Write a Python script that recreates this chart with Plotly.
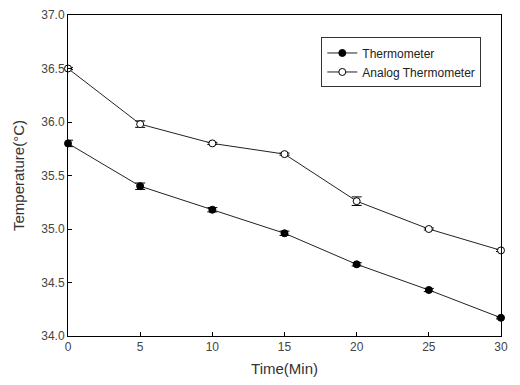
import plotly.graph_objects as go

time_min = [0, 5, 10, 15, 20, 25, 30]
thermometer = [35.80, 35.40, 35.18, 34.96, 34.67, 34.43, 34.17]
thermometer_err = [0.03, 0.03, 0.02, 0.02, 0.015, 0.015, 0.01]
analog = [36.50, 35.98, 35.80, 35.70, 35.26, 35.00, 34.80]
analog_err = [0.01, 0.03, 0.01, 0.01, 0.04, 0.01, 0.01]
y_ticks = [34.0, 34.5, 35.0, 35.5, 36.0, 36.5, 37.0]
x_ticks = [0, 5, 10, 15, 20, 25, 30]

fig = go.Figure()
fig.add_trace(go.Scatter(
    x=time_min, y=thermometer, name="Thermometer", mode="lines+markers",
    line=dict(color="#222222", width=1),
    marker=dict(symbol="circle", size=7, color="black", line=dict(color="black", width=1)),
    error_y=dict(type="data", array=thermometer_err, visible=True, color="black", thickness=1, width=5),
    cliponaxis=False,
))
fig.add_trace(go.Scatter(
    x=time_min, y=analog, name="Analog Thermometer", mode="lines+markers",
    line=dict(color="#222222", width=1),
    marker=dict(symbol="circle", size=7, color="white", line=dict(color="black", width=1)),
    error_y=dict(type="data", array=analog_err, visible=True, color="black", thickness=1, width=5),
    cliponaxis=False,
))

axis_font = dict(family="Liberation Sans, Arial, sans-serif", size=12, color="#444444")
# The page body has an 8px default margin, so the figure is shrunk by that offset.
fig.update_layout(
    width=504, height=369,
    margin=dict(l=60, r=11, t=7, b=41, autoexpand=False),
    paper_bgcolor="white", plot_bgcolor="white",
    font=dict(family="Liberation Sans, Arial, sans-serif", color="#222222"),
    showlegend=True,
    legend=dict(
        x=0.585, y=0.93, xanchor="left", yanchor="top",
        bordercolor="#333333", borderwidth=1, bgcolor="white",
        font=dict(size=12, color="#222222"),
        itemwidth=30, tracegroupgap=0,
    ),
    xaxis=dict(
        range=[0, 30], tickvals=x_ticks, ticks="inside", ticklen=4, tickcolor="black",
        showline=True, linecolor="black", linewidth=1, mirror=True, showgrid=False, zeroline=False,
        tickfont=axis_font, automargin=False, ticklabeloverflow="allow",
        title=dict(text="Time(Min)", font=dict(size=15, color="#333333"), standoff=13),
    ),
    yaxis=dict(
        range=[34, 37], tickvals=y_ticks, tickformat=".1f", ticks="inside", ticklen=4, tickcolor="black",
        showline=True, linecolor="black", linewidth=1, mirror=True, showgrid=False, zeroline=False,
        tickfont=axis_font, automargin=False,
        title=dict(text="Temperature(°C)", font=dict(size=15, color="#333333"), standoff=12),
    ),
)

fig.write_html("out.html")
